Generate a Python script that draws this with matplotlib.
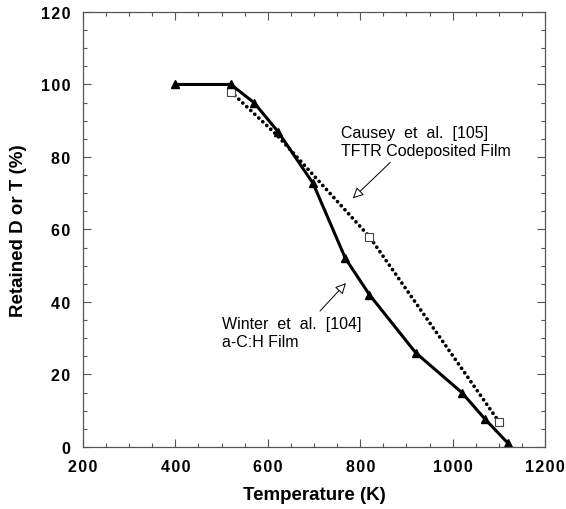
import matplotlib.pyplot as plt
from matplotlib.ticker import MultipleLocator, FuncFormatter

plt.rcParams['font.family'] = ['Liberation Sans', 'DejaVu Sans']

# Winter et al. [104] a-C:H film
winter_T = [400, 520, 570, 622, 698, 768, 820, 920, 1020, 1070, 1120]
winter_R = [100, 100, 95, 87, 72.7, 52, 42, 26, 15, 7.7, 1]

# Causey et al. [105] TFTR codeposited film
causey_T = [520, 620, 820, 1100]
causey_R = [98, 86, 58, 7]

fig = plt.figure(figsize=(5.66, 5.10), dpi=100)
ax = fig.add_axes([0.1466, 0.1216, 0.8164, 0.853])

ax.plot(causey_T, causey_R, color='black', lw=2.7, ls=(0, (0.01, 1.45)),
        dash_capstyle='round', marker='s', markevery=[0, 2, 3], ms=6,
        mfc='white', mec='#444444', mew=0.8)
ax.plot(winter_T, winter_R, color='black', lw=2.2, marker='^', ms=5.5,
        mfc='black', mec='black')

ax.set_xlim(200, 1200)
ax.set_ylim(0, 120)
ax.xaxis.set_major_locator(MultipleLocator(200))
ax.xaxis.set_minor_locator(MultipleLocator(50))
ax.yaxis.set_major_locator(MultipleLocator(20))
ax.yaxis.set_minor_locator(MultipleLocator(5))

spaced = FuncFormatter(lambda v, p: '\u200a'.join(str(int(v))))
ax.xaxis.set_major_formatter(spaced)
ax.yaxis.set_major_formatter(spaced)

ax.tick_params(which='both', direction='in', top=True, right=True,
               color='#555555', width=0.8)
ax.tick_params(which='major', length=6, labelsize=11.5, pad=9)
ax.tick_params(which='minor', length=3)
for lab in ax.get_xticklabels() + ax.get_yticklabels():
    lab.set_fontweight('bold')
for s in ax.spines.values():
    s.set_color('#555555')
    s.set_linewidth(0.9)

ax.set_xlabel('Temperature (K)', fontsize=13.5, fontweight='bold', labelpad=8)
ax.set_ylabel('Retained D or T (%)', fontsize=13.5, fontweight='bold', labelpad=10)

arrow = dict(arrowstyle='-|>', fc='white', ec='black', lw=0.7,
             mutation_scale=16, shrinkA=0, shrinkB=0)
ax.annotate('', xy=(784, 68.6), xytext=(865, 78.5), arrowprops=arrow)
ax.annotate('', xy=(769, 45.2), xytext=(713, 37.5), arrowprops=arrow)

ax.text(758, 84.3, 'Causey  et  al.  [105]\nTFTR Codeposited Film',
        fontsize=11.5, ha='left', va='center', linespacing=1.25)
ax.text(501, 31.6, 'Winter  et  al.  [104]\na-C:H Film',
        fontsize=11.5, ha='left', va='center', linespacing=1.25)

fig.savefig('out.png', dpi=100)
